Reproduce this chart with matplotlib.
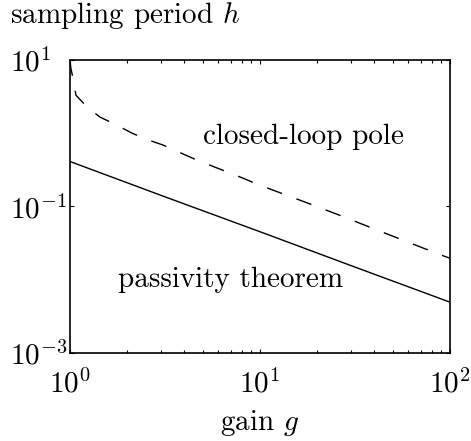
import matplotlib
matplotlib.use("Agg")
from matplotlib import pyplot as plt
from matplotlib.ticker import FixedLocator, NullLocator, LogLocator

plt.rcParams['font.family'] = 'serif'
plt.rcParams['font.serif'] = ['cmr10']
plt.rcParams['mathtext.fontset'] = 'cm'
plt.rcParams['axes.formatter.use_mathtext'] = True

# passivity theorem bound (solid)
g_pass = [1, 3.16, 10, 31.6, 100]
h_pass = [0.41, 0.135, 0.045, 0.0148, 0.0049]

# closed-loop pole bound (dashed)
g_pole = [1.0, 1.01, 1.033, 1.075, 1.23, 1.437, 1.764, 2.12, 2.57, 3.08,
          4.64, 8.1, 9.9, 17.8, 26.1, 38.5, 57.4, 84.3, 100]
h_pole = [10, 7.8, 5.9, 3.3, 2.28, 1.66, 1.29, 1.0, 0.81, 0.69,
          0.43, 0.244, 0.196, 0.111, 0.076, 0.051, 0.034, 0.023, 0.0195]

W, H = 471, 441
fig = plt.figure(figsize=(W / 100, H / 100), dpi=100)
ax = fig.add_axes([70 / W, 1 - 352.7 / H, 380 / W, 292.7 / H])

ax.plot(g_pass, h_pass, color='k', lw=1.0)
ln, = ax.plot(g_pole, h_pole, color='k', lw=1.0)
ln.set_dashes((11.5, 11))

ax.set_xscale('log')
ax.set_yscale('log')
ax.set_xlim(1, 100)
ax.set_ylim(1e-3, 10)

ax.yaxis.set_major_locator(FixedLocator([1e-3, 1e-1, 1e1]))
ax.yaxis.set_minor_locator(NullLocator())
ax.xaxis.set_minor_locator(LogLocator(base=10, subs=range(2, 10)))

ax.tick_params(which='both', direction='in', top=True, right=True, labelsize=21)
ax.tick_params(which='major', length=3, width=0.8)
ax.tick_params(which='minor', length=2, width=0.8)
ax.tick_params(axis='x', pad=12)
ax.tick_params(axis='y', pad=60 * 0.72)
for lab in ax.get_yticklabels():
    lab.set_horizontalalignment('left')
for s in ax.spines.values():
    s.set_linewidth(1.2)

fs = 21
fig.text(10 / W, 1 - 23 / H, 'sampling period $h$', fontsize=fs, va='baseline', ha='left')
fig.text(260 / W, 1 - 430 / H, 'gain $g$', fontsize=fs, va='baseline', ha='center')
fig.text(203 / W, 1 - 144 / H, 'closed-loop pole', fontsize=fs, va='baseline', ha='left')
fig.text(118 / W, 1 - 286.7 / H, 'passivity theorem', fontsize=fs, va='baseline', ha='left')

fig.savefig('out.png', dpi=100)
